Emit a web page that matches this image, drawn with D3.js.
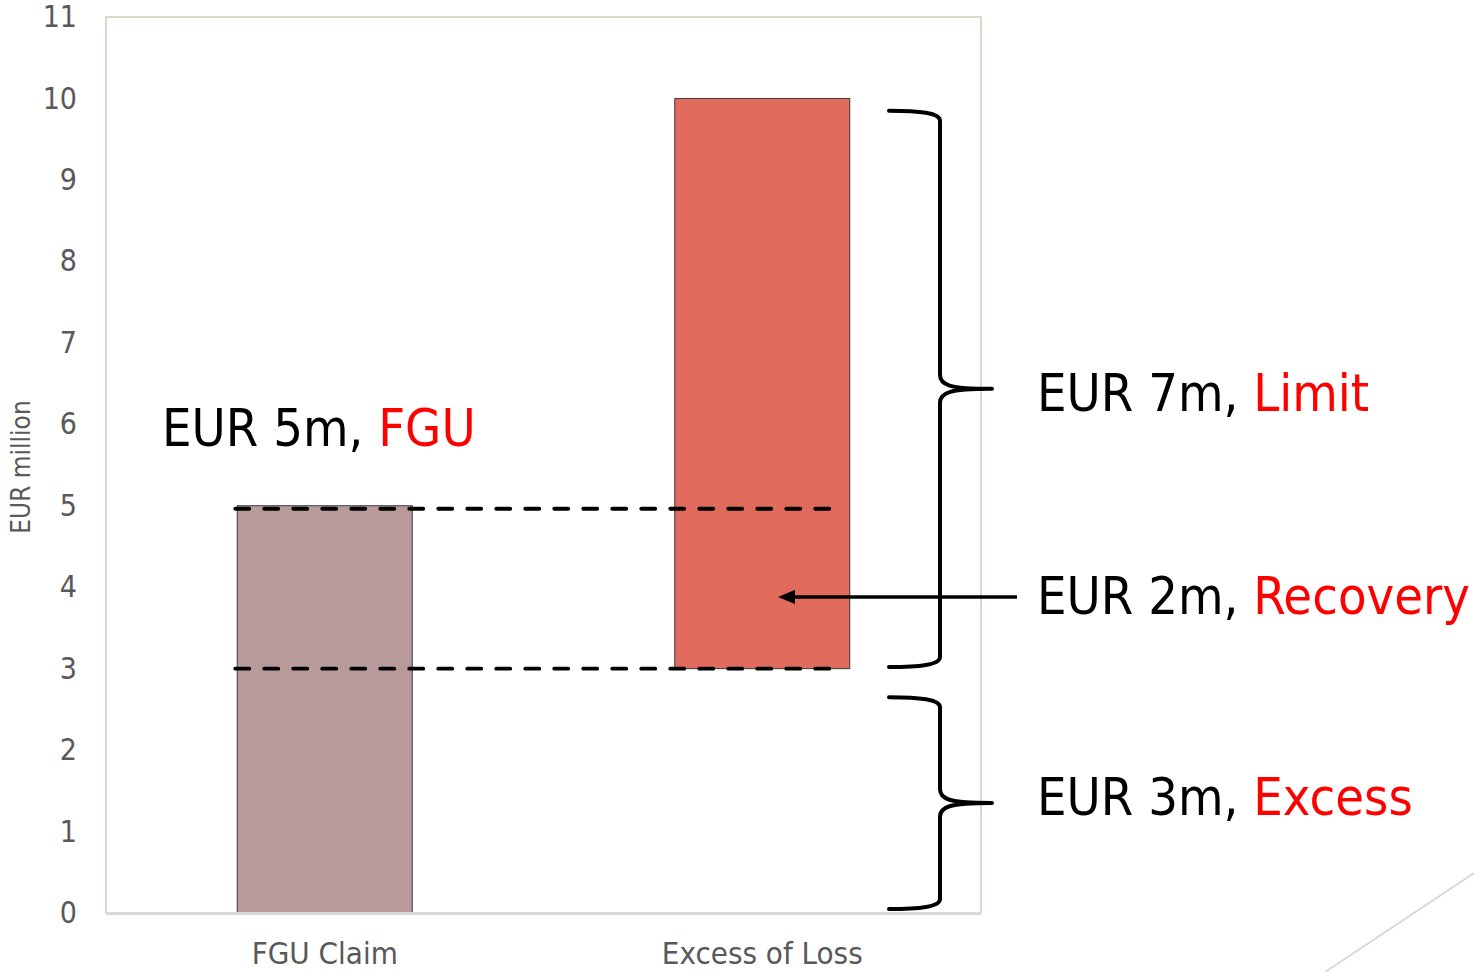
<!DOCTYPE html>
<html>
<head>
<meta charset="utf-8">
<script src="https://cdn.jsdelivr.net/npm/d3@7"></script>
<style>
  html, body { margin: 0; padding: 0; background: #fff; }
  svg { display: block; }
</style>
</head>
<body>
<svg id="chart" width="1474" height="972"></svg>
<script>
// Layer structure: ground-up claim vs. excess-of-loss layer (EUR million)
const categories = ["FGU Claim", "Excess of Loss"];
const barBase = [0, 3];
const barTop = [5, 10];
const barColors = ["#b99a9a", "#e06b5d"];
const yTicks = [0, 1, 2, 3, 4, 5, 6, 7, 8, 9, 10, 11];

// Reference levels drawn as dashed guides (attachment and exhaustion of the claim)
const guideLevels = [5, 3];

// Annotation braces: value ranges they span and the text they point to
const braceRanges = [[3.02, 9.85], [0.05, 2.65]];
const braceAmounts = ["EUR 7m, ", "EUR 3m, "];
const braceNames = ["Limit", "Excess"];
const recoveryLevel = 3.88;
const recoveryAmount = "EUR 2m, ";
const recoveryName = "Recovery";
const fguAmount = "EUR 5m, ";
const fguName = "FGU";
const fguLabelLevel = 5.95;

const svg = d3.select("#chart");
const plot = { left: 106, right: 981, top: 17, bottom: 913 };

const y = d3.scaleLinear().domain([0, 11]).range([plot.bottom, plot.top]);
const x = d3.scaleBand().domain(categories)
  .range([plot.left, plot.right]).paddingInner(0.6).paddingOuter(0.3);

const axisFont = "'DejaVu Sans Condensed', 'DejaVu Sans', sans-serif";

// Plot frame
svg.append("rect")
  .attr("x", plot.left).attr("y", plot.top)
  .attr("width", plot.right - plot.left).attr("height", plot.bottom - plot.top)
  .attr("fill", "none").attr("stroke", "#dcd6cb").attr("stroke-width", 2);

// Y axis (labels only)
const yAxis = d3.axisLeft(y).tickValues(yTicks).tickSize(0).tickPadding(0);
const gy = svg.append("g").attr("transform", "translate(77,0)").call(yAxis);
gy.select(".domain").remove();
gy.selectAll("text")
  .attr("font-family", axisFont)
  .attr("font-size", 30).attr("fill", "#595959");

svg.append("text")
  .attr("transform", `translate(30,${(plot.top + plot.bottom) / 2 + 2}) rotate(-90)`)
  .attr("text-anchor", "middle")
  .attr("font-family", axisFont)
  .attr("font-size", 26).attr("fill", "#595959")
  .text("EUR million");

// Bars
svg.selectAll("rect.bar")
  .data(categories)
  .join("rect")
  .attr("class", "bar")
  .attr("x", d => x(d))
  .attr("width", x.bandwidth())
  .attr("y", (d, i) => y(barTop[i]))
  .attr("height", (d, i) => y(barBase[i]) - y(barTop[i]))
  .attr("fill", (d, i) => barColors[i])
  .attr("stroke", "#3a3a3a").attr("stroke-width", 1);

// X axis baseline and category labels
svg.append("line")
  .attr("x1", plot.left).attr("x2", plot.right)
  .attr("y1", plot.bottom + 0.5).attr("y2", plot.bottom + 0.5)
  .attr("stroke", "#d9d9d9").attr("stroke-width", 3);

const xAxis = d3.axisBottom(x).tickSize(0).tickPadding(0);
const gx = svg.append("g").attr("transform", `translate(0,${plot.bottom + 29})`).call(xAxis);
gx.select(".domain").remove();
gx.selectAll("text")
  .attr("font-family", axisFont)
  .attr("font-size", 31).attr("fill", "#595959");

// Dashed guides from the FGU bar across the layer
const guideX0 = x(categories[0]) - 2;
const guideX1 = x(categories[1]) + x.bandwidth() - 17;
svg.selectAll("line.guide")
  .data(guideLevels)
  .join("line")
  .attr("class", "guide")
  .attr("x1", guideX0).attr("x2", guideX1)
  .attr("y1", (d, i) => y(d) + (i === 0 ? 3 : 0)).attr("y2", (d, i) => y(d) + (i === 0 ? 3 : 0))
  .attr("stroke", "#000").attr("stroke-width", 3.8)
  .attr("stroke-dasharray", "14 15").attr("stroke-linecap", "round");

// Right-hand curly braces
function bracePath(top, bottom, xl, xv, xt) {
  const mid = (top + bottom) / 2;
  const r = 8;
  return `M${xl},${top} C${xl + 30},${top} ${xv},${top + 2} ${xv},${top + r + 2}` +
    ` L${xv},${mid - 14} C${xv},${mid - 4} ${xv + 8},${mid} ${xt},${mid}` +
    ` M${xt},${mid} C${xv + 8},${mid} ${xv},${mid + 4} ${xv},${mid + 14}` +
    ` L${xv},${bottom - r - 2} C${xv},${bottom - 2} ${xl + 30},${bottom} ${xl},${bottom}`;
}

const fontBig = "'DejaVu Sans Condensed', 'DejaVu Sans', sans-serif";
const bigSize = 52;

function twoToneLabel(xPos, yMid, black, red) {
  const t = svg.append("text")
    .attr("x", xPos).attr("y", yMid)
    .attr("dominant-baseline", "central")
    .attr("font-family", fontBig).attr("font-size", bigSize);
  t.append("tspan").attr("fill", "#000").attr("xml:space", "preserve").text(black);
  t.append("tspan").attr("fill", "#ff0000").text(red);
  return t;
}

const braceLabelShift = [4, -6];
braceRanges.forEach((r, i) => {
  const top = y(r[1]), bottom = y(r[0]);
  svg.append("path")
    .attr("d", bracePath(top, bottom, 889, 940, 992))
    .attr("fill", "none").attr("stroke", "#000")
    .attr("stroke-width", 4).attr("stroke-linecap", "round").attr("stroke-linejoin", "round");
  twoToneLabel(1037, (top + bottom) / 2 + braceLabelShift[i], braceAmounts[i], braceNames[i]);
});

// Recovery arrow
const defs = svg.append("defs");
defs.append("marker")
  .attr("id", "arrowhead")
  .attr("viewBox", "0 0 12 10").attr("refX", 1).attr("refY", 5)
  .attr("markerWidth", 5).attr("markerHeight", 4.2)
  .attr("orient", "auto-start-reverse")
  .append("path").attr("d", "M0,0 L12,5 L0,10 Z").attr("fill", "#000");

svg.append("line")
  .attr("x1", 1017).attr("x2", 794)
  .attr("y1", y(recoveryLevel)).attr("y2", y(recoveryLevel))
  .attr("stroke", "#000").attr("stroke-width", 3.5)
  .attr("marker-end", "url(#arrowhead)");

twoToneLabel(1037, y(recoveryLevel) - 1, recoveryAmount, recoveryName);

// FGU claim label above the bar
twoToneLabel(162, y(fguLabelLevel), fguAmount, fguName);

// Decorative slide accent in the corner
svg.append("line")
  .attr("x1", 1325).attr("y1", 972).attr("x2", 1474).attr("y2", 873)
  .attr("stroke", "#d9d9d9").attr("stroke-width", 2);
</script>
</body>
</html>
